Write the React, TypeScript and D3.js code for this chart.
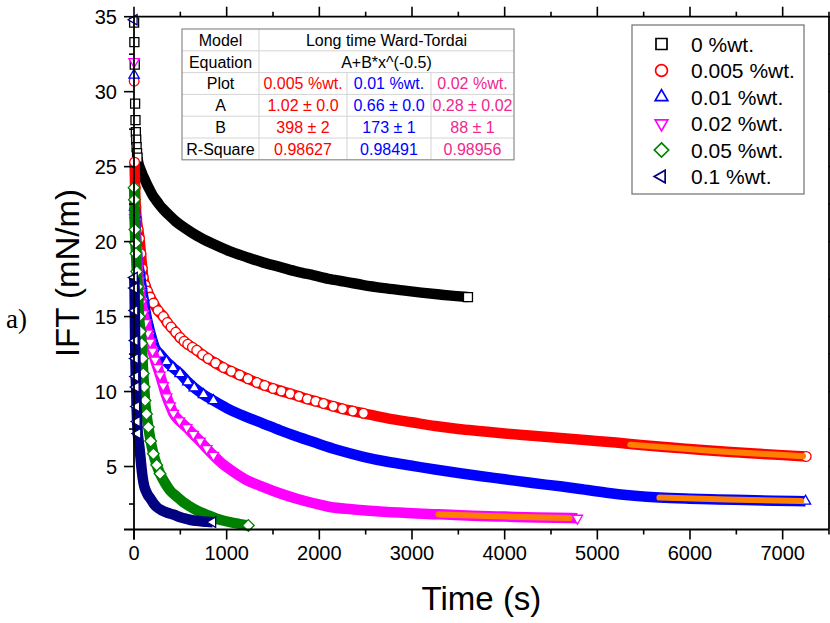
import React from 'react';
import * as d3 from 'd3';

const W = 830;
const H = 623;

// ---------- data ----------
const xTickValues = [0, 1000, 2000, 3000, 4000, 5000, 6000, 7000];
const xMinorValues = [500, 1500, 2500, 3500, 4500, 5500, 6500, 7500];
const yTickValues = [5, 10, 15, 20, 25, 30, 35];
const yMinorValues = [2.5, 7.5, 12.5, 17.5, 22.5, 27.5, 32.5];

const seriesNames = ['0 %wt.', '0.005 %wt.', '0.01 %wt.', '0.02 %wt.', '0.05 %wt.', '0.1 %wt.'];

const t0 = [1, 4, 8, 12, 16, 20, 24, 28, 33, 38, 45, 65, 90, 119, 145, 170, 200, 234, 275, 317, 380, 450, 550, 677, 850, 1037, 1200, 1397, 1580, 1757, 1940, 2117, 2300, 2476, 2700, 2900, 3100, 3300, 3450, 3604];
const v0 = [34.6, 33.3, 31.8, 29.2, 28.1, 27.3, 26.8, 26.3, 25.9, 25.6, 25.3, 24.9, 24.5, 24.1, 23.75, 23.45, 23.1, 22.8, 22.45, 22.15, 21.75, 21.35, 20.9, 20.4, 19.85, 19.35, 19.0, 18.6, 18.3, 18.0, 17.75, 17.5, 17.3, 17.1, 16.9, 16.75, 16.6, 16.47, 16.38, 16.3];

const t1 = [2, 6, 12, 20, 30, 45, 60, 75, 90, 100, 120, 145, 173, 210, 260, 317, 360, 400, 450, 497, 540, 580, 630, 677, 740, 800, 880, 965, 1050, 1140, 1230, 1325, 1410, 1500, 1590, 1685, 1780, 1870, 1960, 2045, 2150, 2250, 2360, 2476, 2750, 3000, 3250, 3500, 3750, 4000, 4300, 4600, 4900, 5200, 5500, 5800, 6100, 6400, 6700, 7000, 7254];
const v1 = [30.7, 25.3, 23.6, 22.3, 21.5, 20.8, 20.2, 19.2, 18.2, 17.6, 17.1, 16.7, 16.3, 15.9, 15.4, 15.0, 14.6, 14.3, 13.95, 13.6, 13.35, 13.15, 12.95, 12.75, 12.45, 12.2, 11.9, 11.6, 11.35, 11.1, 10.85, 10.6, 10.4, 10.2, 10.03, 9.86, 9.68, 9.5, 9.35, 9.2, 9.02, 8.85, 8.7, 8.55, 8.2, 7.95, 7.7, 7.5, 7.35, 7.2, 7.05, 6.9, 6.75, 6.6, 6.42, 6.27, 6.12, 5.99, 5.87, 5.76, 5.67];

const t2 = [1, 6, 12, 25, 40, 60, 80, 100, 120, 145, 173, 200, 227, 281, 350, 420, 497, 580, 650, 750, 857, 1000, 1100, 1217, 1400, 1577, 1760, 1937, 2200, 2476, 2750, 3000, 3250, 3520, 3750, 4000, 4300, 4600, 4816, 5100, 5400, 5670, 6000, 6300, 6600, 6900, 7246];
const v2 = [31.1, 22.3, 21.8, 20.0, 18.7, 18.0, 17.1, 16.3, 15.5, 14.7, 14.0, 13.4, 12.9, 12.5, 12.0, 11.6, 11.2, 10.65, 10.25, 9.8, 9.4, 8.9, 8.6, 8.3, 7.85, 7.41, 7.0, 6.63, 6.1, 5.65, 5.3, 5.05, 4.8, 4.55, 4.35, 4.15, 3.9, 3.68, 3.5, 3.25, 3.05, 2.93, 2.85, 2.8, 2.76, 2.72, 2.69];

const t3 = [1, 8, 18, 30, 42, 50, 65, 80, 100, 125, 150, 173, 200, 227, 255, 281, 315, 353, 390, 425, 490, 569, 640, 713, 785, 857, 950, 1037, 1200, 1397, 1580, 1757, 1940, 2117, 2350, 2621, 2950, 3287, 3650, 4000, 4350, 4715, 4785];
const v3 = [32.0, 21.6, 20.5, 19.4, 18.2, 17.4, 16.6, 15.9, 15.2, 14.6, 13.9, 13.3, 12.7, 12.1, 11.6, 11.1, 10.4, 9.65, 9.05, 8.55, 8.05, 7.6, 7.15, 6.7, 6.2, 5.75, 5.2, 4.8, 4.15, 3.63, 3.2, 2.85, 2.55, 2.3, 2.15, 2.02, 1.9, 1.81, 1.72, 1.66, 1.6, 1.56, 1.55];

const t4 = [1, 5, 10, 16, 22, 30, 38, 46, 55, 70, 83, 92, 100, 110, 119, 135, 155, 180, 209, 245, 281, 330, 389, 460, 533, 600, 677, 780, 893, 960, 1037, 1130, 1234];
const v4 = [23.6, 22.8, 20.8, 19.9, 19.2, 18.0, 17.0, 16.3, 15.0, 14.0, 13.2, 12.2, 11.2, 10.3, 9.4, 8.5, 7.63, 6.7, 5.85, 5.1, 4.52, 3.95, 3.4, 3.0, 2.62, 2.35, 2.07, 1.8, 1.52, 1.4, 1.29, 1.18, 1.07];

const t5 = [1, 3, 6, 9, 12, 15, 19, 23, 28, 34, 41, 50, 60, 70, 80, 95, 110, 130, 150, 173, 210, 245, 300, 360, 425, 500, 570, 641, 720, 790, 849];
const v5 = [34.8, 17.6, 16.9, 15.4, 13.4, 12.2, 11.0, 10.3, 9.0, 8.0, 7.2, 6.7, 6.2, 5.6, 4.96, 4.2, 3.7, 3.35, 3.1, 2.9, 2.55, 2.3, 2.08, 1.92, 1.8, 1.62, 1.5, 1.4, 1.35, 1.31, 1.29];

// long-time Ward-Tordai fits (orange lines)
const fitRedT = [5356, 6300, 7220];
const fitRedV = [6.46, 6.02, 5.69];
const fitBlueT = [5670, 6400, 7200];
const fitBlueV = [2.93, 2.8, 2.7];
const fitPinkT = [3287, 4000, 4700];
const fitPinkV = [1.81, 1.66, 1.56];

// fit report table
const tablePlots = ['0.005 %wt.', '0.01 %wt.', '0.02 %wt.'];
const tableA = ['1.02 ± 0.0', '0.66 ± 0.0', '0.28 ± 0.02'];
const tableB = ['398 ± 2', '173 ± 1', '88 ± 1'];
const tableR2 = ['0.98627', '0.98491', '0.98956'];

// ---------- styles ----------
const FONT = 'Liberation Sans, Arial, Helvetica, sans-serif';
const colors = ['#000000', '#ff0000', '#0000ff', '#ff00ff', '#008000', '#000080'];
const symbols = ['square', 'circle', 'triUp', 'triDown', 'diamond', 'triLeft'];
const bandFrom = [38, 5, 5, 5, 0, 3];
const markUntil = [40, 2480, 1000, 870, 290, 45];
const tableTextColors = ['#ff0000', '#0000ff', '#f0288c'];

function symbolPath(kind: string, s: number): string {
  const h = s / 2;
  switch (kind) {
    case 'square':
      return `M${-h},${-h}h${s}v${s}h${-s}Z`;
    case 'circle': {
      const r = h * 1.08;
      return `M${-r},0a${r},${r} 0 1,0 ${2 * r},0a${r},${r} 0 1,0 ${-2 * r},0Z`;
    }
    case 'triUp': {
      const a = s * 1.15, ht = a * 0.866;
      return `M0,${-(2 * ht) / 3}L${a / 2},${ht / 3}L${-a / 2},${ht / 3}Z`;
    }
    case 'triDown': {
      const a = s * 1.15, ht = a * 0.866;
      return `M0,${(2 * ht) / 3}L${a / 2},${-ht / 3}L${-a / 2},${-ht / 3}Z`;
    }
    case 'triLeft': {
      const a = s * 1.15, ht = a * 0.866;
      return `M${-(2 * ht) / 3},0L${ht / 3},${-a / 2}L${ht / 3},${a / 2}Z`;
    }
    case 'diamond': {
      const d = h * 1.3;
      return `M0,${-d}L${d},0L0,${d}L${-d},0Z`;
    }
  }
  return '';
}

export default function App() {
  const x = d3.scaleLinear().domain([0, 7500]).range([134, 829]);
  const y = d3.scaleLinear().domain([0.8, 35]).range([529.5, 16.7]);

  const allT = [t0, t1, t2, t3, t4, t5];
  const allV = [v0, v1, v2, v3, v4, v5];

  const line = d3
    .line<[number, number]>()
    .x((d) => x(d[0]))
    .y((d) => y(d[1]))
    .curve(d3.curveMonotoneX);

  const fits = [
    [fitRedT, fitRedV],
    [fitBlueT, fitBlueV],
    [fitPinkT, fitPinkV],
  ];

  const xAxisY = y.range()[0];
  const left = x.range()[0];
  const right = x.range()[1];
  const top = y.range()[1];

  // table geometry
  const colX = [182, 259, 347, 431, 514];
  const rowTop = 29;
  const rowH = 21.8;
  const tRows = 6;

  const legendX = 632, legendY = 25, legendW = 172, legendH = 169;

  return (
    <svg
      width={W}
      height={H}
      viewBox={`0 0 ${W} ${H}`}
      style={{ position: 'absolute', left: 0, top: 0, background: '#fff' }}
    >
      <rect x={0} y={0} width={W} height={H} fill="#fff" />

      {/* series */}
      {allT.map((ts, si) => {
        const pts: [number, number][] = ts.map((t, i) => [t, allV[si][i]]);
        const band = pts.filter((p) => p[0] >= bandFrom[si]);
        const marks = pts.filter((p, i) => p[0] < markUntil[si] || i === pts.length - 1);
        return (
          <g key={si}>
            <path
              d={line(band) || ''}
              fill="none"
              stroke={colors[si]}
              strokeWidth={10.5}
              strokeLinejoin="round"
              strokeLinecap="butt"
            />
            {marks.map((p, i) => (
              <path
                key={i}
                d={symbolPath(symbols[si], 9)}
                transform={`translate(${x(p[0])},${y(p[1])})`}
                fill="#fff"
                stroke={colors[si]}
                strokeWidth={1.3}
              />
            ))}
          </g>
        );
      })}

      {/* fits */}
      {fits.map(([ft, fv], i) => (
        <path
          key={i}
          d={line(ft.map((t, j) => [t, fv[j]] as [number, number])) || ''}
          fill="none"
          stroke="#ff8000"
          strokeWidth={6}
          strokeLinecap="round"
        />
      ))}

      {/* frame */}
      <g stroke="#000" strokeWidth={1.8} fill="none">
        <line x1={left} y1={top} x2={right} y2={top} />
        <line x1={right} y1={top} x2={right} y2={xAxisY} />
        <line x1={left} y1={top} x2={left} y2={xAxisY + 10} />
        <line x1={left - 10} y1={xAxisY} x2={right} y2={xAxisY} />
      </g>

      {/* ticks */}
      <g stroke="#000" strokeWidth={1.6}>
        {xTickValues.map((v) => (
          <g key={'xt' + v}>
            <line x1={x(v)} x2={x(v)} y1={xAxisY} y2={xAxisY + 10} />
            <line x1={x(v)} x2={x(v)} y1={top} y2={top - 10} />
          </g>
        ))}
        {xMinorValues.map((v) => (
          <g key={'xm' + v}>
            <line x1={x(v)} x2={x(v)} y1={xAxisY} y2={xAxisY + 5} />
            <line x1={x(v)} x2={x(v)} y1={top} y2={top - 5} />
          </g>
        ))}
        {yTickValues.map((v) => (
          <g key={'yt' + v}>
            <line x1={left} x2={left - 10} y1={y(v)} y2={y(v)} />
            <line x1={right} x2={right + 10} y1={y(v)} y2={y(v)} />
          </g>
        ))}
        {yMinorValues.map((v) => (
          <g key={'ym' + v}>
            <line x1={left} x2={left - 5} y1={y(v)} y2={y(v)} />
            <line x1={right} x2={right + 5} y1={y(v)} y2={y(v)} />
          </g>
        ))}
      </g>

      {/* tick labels */}
      <g fontFamily={FONT} fontSize={20} fill="#000">
        {xTickValues.map((v) => (
          <text key={'xl' + v} x={x(v)} y={560} textAnchor="middle">
            {v}
          </text>
        ))}
        {yTickValues.map((v) => (
          <text key={'yl' + v} x={117} y={y(v) + 7} textAnchor="end">
            {v}
          </text>
        ))}
      </g>

      {/* axis titles */}
      <text x={481.5} y={610} textAnchor="middle" fontFamily={FONT} fontSize={33}>
        Time (s)
      </text>
      <text
        transform={`translate(79,${(top + xAxisY) / 2}) rotate(-90)`}
        textAnchor="middle"
        fontFamily={FONT}
        fontSize={33}
      >
        IFT (mN/m)
      </text>
      <text x={6} y={328} fontFamily="Liberation Serif, DejaVu Serif, serif" fontSize={27}>
        a)
      </text>

      {/* fit table */}
      <g fontFamily={FONT} fontSize={16}>
        <rect x={colX[0]} y={rowTop} width={colX[4] - colX[0]} height={rowH * tRows} fill="#fff" />
        {d3.range(1, tRows).map((r) => (
          <line
            key={'hr' + r}
            x1={colX[0]}
            x2={colX[4]}
            y1={rowTop + r * rowH}
            y2={rowTop + r * rowH}
            stroke="#d4d4d4"
            strokeWidth={1}
          />
        ))}
        <line x1={colX[1]} x2={colX[1]} y1={rowTop} y2={rowTop + rowH * tRows} stroke="#d4d4d4" />
        {[2, 3].map((c) => (
          <line
            key={'vc' + c}
            x1={colX[c]}
            x2={colX[c]}
            y1={rowTop + 2 * rowH}
            y2={rowTop + rowH * tRows}
            stroke="#d4d4d4"
          />
        ))}
        <rect
          x={colX[0]}
          y={rowTop}
          width={colX[4] - colX[0]}
          height={rowH * tRows}
          fill="none"
          stroke="#8a8a8a"
          strokeWidth={1.2}
        />
        {['Model', 'Equation', 'Plot', 'A', 'B', 'R-Square'].map((lab, r) => (
          <text
            key={'rl' + r}
            x={(colX[0] + colX[1]) / 2}
            y={rowTop + r * rowH + rowH / 2 + 5.8}
            textAnchor="middle"
            fill="#000"
          >
            {lab}
          </text>
        ))}
        <text x={(colX[1] + colX[4]) / 2} y={rowTop + rowH / 2 + 5.8} textAnchor="middle" fill="#000">
          Long time Ward-Tordai
        </text>
        <text x={(colX[1] + colX[4]) / 2} y={rowTop + rowH * 1.5 + 5.8} textAnchor="middle" fill="#000">
          A+B*x^(-0.5)
        </text>
        {[tablePlots, tableA, tableB, tableR2].map((row, r) =>
          row.map((cell, c) => (
            <text
              key={'c' + r + '_' + c}
              x={(colX[c + 1] + colX[c + 2]) / 2}
              y={rowTop + (r + 2) * rowH + rowH / 2 + 5.8}
              textAnchor="middle"
              fill={tableTextColors[c]}
            >
              {cell}
            </text>
          ))
        )}
      </g>

      {/* legend */}
      <g>
        <rect x={legendX} y={legendY} width={legendW} height={legendH} fill="#fff" stroke="#707070" strokeWidth={1.2} />
        {seriesNames.map((name, i) => {
          const cy = 44 + i * 26.5;
          return (
            <g key={'lg' + i}>
              <path
                d={symbolPath(symbols[i], 11)}
                transform={`translate(661.5,${cy})`}
                fill="#fff"
                stroke={colors[i]}
                strokeWidth={1.7}
              />
              <text x={691} y={cy + 7.5} fontFamily={FONT} fontSize={21} fill="#000">
                {name}
              </text>
            </g>
          );
        })}
      </g>
    </svg>
  );
}
